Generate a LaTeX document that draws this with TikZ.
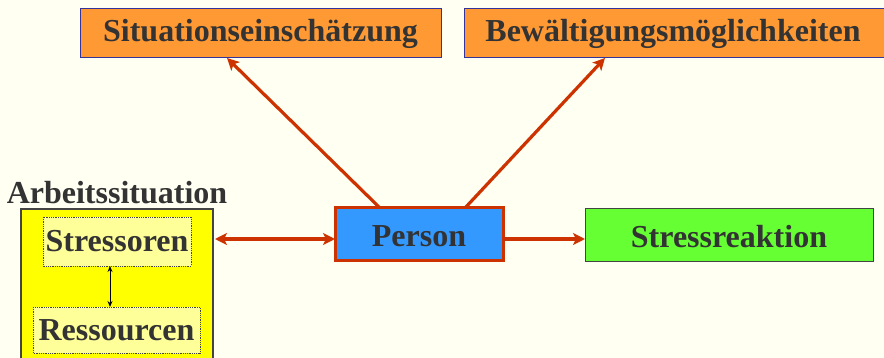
\documentclass[tikz,border=0pt]{standalone}
\usepackage{fontspec}
\setmainfont{Liberation Serif}
\usetikzlibrary{arrows.meta}
\definecolor{bg}{HTML}{FFFFF2}
\definecolor{txt}{HTML}{333333}
\definecolor{boxorange}{HTML}{FF9933}
\definecolor{boxblue}{HTML}{3399FF}
\definecolor{boxgreen}{HTML}{66FF33}
\definecolor{boxyellow}{HTML}{FFFF00}
\definecolor{lightyellow}{HTML}{FFFF99}
\definecolor{arrowred}{HTML}{CC3300}
\definecolor{edgeblue}{HTML}{333399}
\definecolor{edgegray}{HTML}{444444}
\tikzset{
  lbl/.style={font=\fontsize{32}{36}\selectfont\bfseries, text=txt, inner sep=0pt},
  redtip/.tip={Stealth[length=12pt,width=12pt,inset=3pt]},
  redarrow/.style={draw=arrowred, line width=3.2pt, -redtip},
  redboth/.style={draw=arrowred, line width=3.2pt, redtip-redtip},
  innerbox/.style={draw=edgegray, fill=lightyellow, densely dotted, line width=0.8pt},
}
\begin{document}
\begin{tikzpicture}[x=1pt,y=-1pt]
  \fill[bg] (0,0) rectangle (884,358);
  \useasboundingbox (0,0) rectangle (884,358);

  % top boxes
  \draw[draw=edgeblue, fill=boxorange, line width=1pt] (80,9) rectangle (441,58);
  \node[lbl] (sit) at (260.5,33.5) {Situationseinschätzung};
  \coordinate (sitB) at (227,58);
  \draw[draw=edgeblue, fill=boxorange, line width=1pt] (464,9) rectangle (890,58);
  \node[lbl] (bew) at (673,33.5) {Bewältigungsmöglichkeiten};
  \coordinate (bewB) at (605,58);

  % working situation
  \node[lbl] (arb) at (117,193) {Arbeitssituation};
  \draw[draw=edgegray, fill=boxyellow, line width=1.2pt] (21,209) rectangle (213,365);
  \draw[innerbox] (43,217) rectangle (191,266);
  \node[lbl] (str) at (117,241.5) {Stressoren};
  \draw[innerbox] (33,307) rectangle (200,353);
  \node[lbl] (res) at (116.5,330) {Ressourcen};
  \coordinate (strB) at (110,266);
  \coordinate (resT) at (110,307);
  \draw[draw=black, line width=0.9pt, {Stealth[length=6pt,width=5pt]}-{Stealth[length=6pt,width=5pt]}] (strB) -- (resT);
  \coordinate (arbR) at (215,239);

  % person
  \draw[draw=arrowred, fill=boxblue, line width=3pt] (335,208) rectangle (503,261);
  \node[lbl] (per) at (419,236) {Person};
  \coordinate (perL) at (335,239);
  \coordinate (perR) at (503,239);
  \coordinate (perT1) at (380,208);
  \coordinate (perT2) at (465,208);

  % stress reaction
  \draw[draw=edgegray, fill=boxgreen, line width=1pt] (585,209) rectangle (873,262);
  \node[lbl] (sre) at (729,237) {Stressreaktion};
  \coordinate (sreL) at (585,239);

  % connectors
  \draw[redboth] (arbR) -- (perL);
  \draw[redarrow] (perR) -- (sreL);
  \draw[redarrow] (perT1) -- (sitB);
  \draw[redarrow] (perT2) -- (bewB);
\end{tikzpicture}
\end{document}
